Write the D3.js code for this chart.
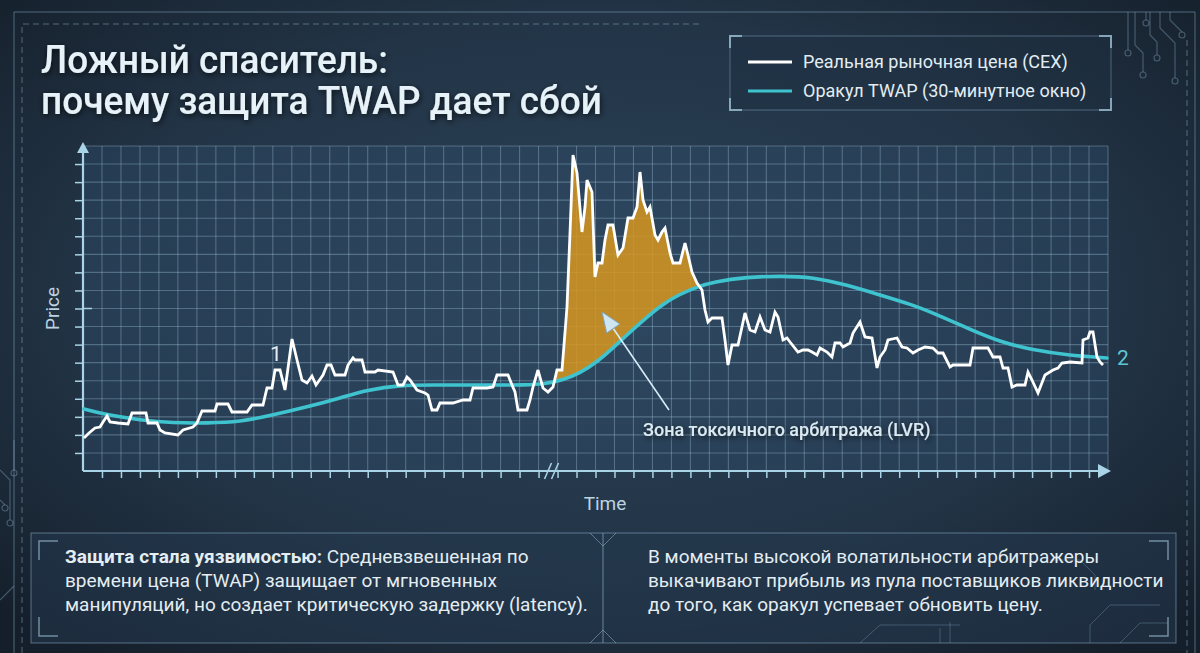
<!DOCTYPE html>
<html><head><meta charset="utf-8">
<script src="https://cdn.jsdelivr.net/npm/d3@7"></script>
<style>
html,body{margin:0;padding:0;background:#1a2634;}
svg{display:block;font-family:Roboto,"Noto Sans",sans-serif;}
</style></head><body>
<svg id="chart" width="1200" height="653"></svg>
<script>
// ---------- DATA (time & price in arbitrary units) ----------
const priceTime = [0.2,1.2,2.4,3.4,4.0,4.8,5.4,7.0,9.0,9.8,12.6,13.0,14.8,15.4,16.4,19.0,20.0,22.0,22.8,23.8,26.4,26.8,29.0,29.8,32.8,33.8,36.0,36.8,37.8,38.4,39.4,40.4,41.8,42.8,43.8,44.8,45.8,46.6,48.0,48.8,49.6,50.4,52.4,53.0,54.0,54.4,55.8,56.4,58.4,59.0,62.0,63.0,64.0,64.8,65.4,66.8,68.4,69.0,69.8,70.8,71.4,74.0,76.0,77.4,78.0,80.8,82.0,82.8,85.0,85.8,86.4,87.0,88.8,89.4,90.0,91.0,92.0,93.0,94.0,94.8,95.8,96.8,97.4,98.0,98.8,99.8,100.4,100.8,101.8,102.4,103.0,103.8,104.4,105.0,106.0,107.0,108.0,109.0,110.0,110.8,111.4,112.0,112.8,113.4,114.4,115.0,115.8,116.4,117.4,118.0,119.4,120.4,121.0,121.8,122.8,123.8,124.4,125.0,125.8,127.8,128.4,129.0,129.8,131.0,132.4,133.4,134.4,135.4,136.4,137.4,138.4,139.0,140.0,140.8,141.4,143.0,144.0,145.0,145.8,146.8,147.4,148.8,149.8,150.4,151.4,152.0,153.4,154.0,155.4,156.4,157.8,158.8,159.4,160.4,161.0,162.8,163.8,164.8,166.0,167.0,168.4,170.0,171.0,172.0,173.4,174.0,177.4,178.0,181.0,182.0,183.4,184.0,185.0,185.8,186.8,188.4,189.0,189.8,191.0,192.4,194.0,195.0,195.8,197.4,199.8,200.0,201.0,201.4,202.0,202.8,203.4,204.0];
const priceValue = [13.2,15.2,17.2,17.6,19.6,22.0,19.6,19.2,18.8,23.2,23.2,19.2,19.2,16.4,15.2,14.4,16.4,17.6,19.2,24.0,24.0,26.8,26.8,23.6,23.6,26.4,26.4,33.2,33.2,40.4,40.4,32.4,52.8,44.4,36.4,35.2,38.0,34.4,38.4,42.4,42.4,38.4,38.4,42.4,45.2,44.4,44.4,39.6,39.6,40.4,39.6,34.4,34.4,37.6,36.4,32.4,31.2,30.4,24.4,24.4,27.2,27.2,28.4,28.4,33.2,33.2,33.6,38.4,38.4,34.4,31.6,24.4,24.4,28.4,33.6,40.4,33.2,31.6,33.6,40.4,40.4,65.6,95.2,126.4,119.2,95.6,105.6,116.4,111.6,77.6,83.2,83.2,92.4,98.4,98.4,86.4,89.2,101.2,101.2,105.6,119.6,108.4,103.6,105.6,94.4,92.4,95.6,97.2,87.2,83.2,83.2,91.2,86.4,79.6,75.2,72.4,64.4,59.6,61.2,61.2,52.4,42.4,50.4,50.4,63.2,56.4,55.6,61.6,56.4,55.6,63.6,61.6,52.4,53.2,51.6,47.6,48.4,48.4,47.6,46.4,49.2,47.6,45.6,51.2,51.2,49.6,51.2,55.2,59.6,53.6,53.2,41.2,45.6,48.4,52.4,53.2,49.6,49.2,47.2,48.4,49.6,49.2,47.2,47.2,41.6,42.4,42.4,49.2,49.2,45.6,45.6,41.2,41.2,33.6,34.4,34.4,39.6,36.4,31.2,38.4,40.4,41.2,43.2,43.6,43.2,52.4,53.2,55.6,55.6,45.6,43.6,42.4];
const twapTime  = [0.2,4.8,11.4,18.0,24.8,31.4,38.0,44.8,51.4,56.8,63.4,70.0,76.8,83.4,88.0,92.4,96.0,99.4,102.8,106.0,109.4,112.8,116.0,119.4,122.8,126.0,132.8,139.4,146.0,152.8,159.4,166.0,170.0,176.8,183.4,190.0,196.8,204.8];
const twapValue = [24.8,22.4,20.4,19.2,19.2,19.6,22.4,25.6,29.2,32.4,34.4,34.4,34.4,34.4,34.4,34.8,36.4,39.2,43.6,49.2,55.6,61.6,66.8,70.8,73.6,75.6,77.6,78.0,77.6,74.4,70.4,66.4,63.2,57.2,51.6,48.4,46.4,45.2];
const lvrRange = [94.0, 124.6];          // time window of the toxic-arbitrage zone
const legendLabels = ["Реальная рыночная цена (CEX)", "Оракул TWAP (30-минутное окно)"];
const titleLines = ["Ложный спаситель:", "почему защита TWAP дает сбой"];
const axisLabels = {x: "Time", y: "Price"};
const zoneLabel = "Зона токсичного арбитража (LVR)";
const markerLabels = [{text: "1", t: 38.6, p: 47}, {text: "2", t: 208, p: 45.2}];
const arrowAnno = {tail: [117.2, 24.4], head: [103.8, 63.6]};
const gridCols = 54, gridRows = 18;
const xDomain = [0, 205], yDomain = [0, 130];

// ---------- LAYOUT ----------
const W = 1200, H = 653;
const plot = {left: 83, right: 1108, top: 146, bottom: 471};
const svg = d3.select("#chart");
const defs = svg.append("defs");

const x = d3.scaleLinear().domain(xDomain).range([plot.left, plot.right]);
const y = d3.scaleLinear().domain(yDomain).range([plot.bottom, plot.top]);

// background
const bg = defs.append("radialGradient").attr("id","bg").attr("cx","50%").attr("cy","45%").attr("r","70%");
bg.append("stop").attr("offset","0%").attr("stop-color","#2d4459");
bg.append("stop").attr("offset","60%").attr("stop-color","#223446");
bg.append("stop").attr("offset","100%").attr("stop-color","#151f2b");
svg.append("rect").attr("width",W).attr("height",H).attr("fill","url(#bg)");

const glow = defs.append("filter").attr("id","glow").attr("x","-20%").attr("y","-50%").attr("width","140%").attr("height","200%");
glow.append("feGaussianBlur").attr("in","SourceAlpha").attr("stdDeviation",3).attr("result","b");
glow.append("feOffset").attr("in","b").attr("dx",1).attr("dy",2).attr("result","o");
glow.append("feComponentTransfer").attr("in","o").attr("result","s").append("feFuncA").attr("type","linear").attr("slope",0.7);
const gm = glow.append("feMerge"); gm.append("feMergeNode").attr("in","s"); gm.append("feMergeNode").attr("in","SourceGraphic");

const deco = "rgba(150,190,215,0.45)";
// frame decorations
const fr = svg.append("g").attr("fill","none").attr("stroke",deco).attr("stroke-width",1);
fr.append("path").attr("d","M14,653 V12 H1195 V653");
fr.append("path").attr("d","M22,653 V24 H700").attr("stroke-dasharray","6,4");
fr.append("path").attr("d","M1187,40 V653").attr("stroke-dasharray","6,4");
// circuit traces top right
const circ = svg.append("g").attr("fill","none").attr("stroke","rgba(150,190,215,0.35)").attr("stroke-width",1.2);
[["M1135,12 V45 L1143,53 V72",1143,72],["M1146,12 V20",1146,20],["M1150,12 V35 L1157,42 V55",1157,55],["M1160,12 V28 L1175,43 V78",1175,78],["M1170,12 V20 L1182,32",1182,32],["M1128,12 V50",1128,50]].forEach(d=>{
  circ.append("path").attr("d",d[0]);
  circ.append("circle").attr("cx",d[1]).attr("cy",d[2]+3).attr("r",3);
});
// circuit traces bottom left
[["M0,470 L10,480 V520",10,523],["M0,500 L5,505",5,508],["M14,440 V470",14,473],["M0,600 L14,586",0,0]].forEach(d=>{
  circ.append("path").attr("d",d[0]);
  if(d[1]) circ.append("circle").attr("cx",d[1]).attr("cy",d[2]).attr("r",3);
});

// ---------- TITLE ----------
svg.append("g").attr("filter","url(#glow)").selectAll("text").data(titleLines).join("text")
  .attr("x",41).attr("y",(d,i)=>73+i*41)
  .attr("font-size",38).attr("font-weight",500).attr("fill","#e6f2f8")
  .attr("textLength",(d,i)=>i===0?347:561).attr("lengthAdjust","spacingAndGlyphs")
  .text(d=>d);

// ---------- LEGEND ----------
const lg = svg.append("g");
lg.append("rect").attr("x",730).attr("y",36).attr("width",381).attr("height",74).attr("fill","rgba(30,48,66,0.5)").attr("stroke","rgba(150,190,215,0.4)");
const br = "rgba(170,205,225,0.7)";
[["M730,48 V36 H742"],["M1099,36 H1111 V48"],["M730,98 V110 H742"],["M1099,110 H1111 V98"]].forEach(d=>lg.append("path").attr("d",d[0]).attr("fill","none").attr("stroke",br).attr("stroke-width",2));
const legendColors = ["#ffffff","#3ec3cf"];
legendLabels.forEach((lab,i)=>{
  const ly = 62 + i*29;
  lg.append("line").attr("x1",748).attr("x2",792).attr("y1",ly).attr("y2",ly).attr("stroke",legendColors[i]).attr("stroke-width",3);
  lg.append("text").attr("x",803).attr("y",ly+6).attr("font-size",18).attr("fill","#e2edf3").text(lab);
});

// ---------- PLOT ----------
svg.append("rect").attr("x",plot.left).attr("y",plot.top).attr("width",plot.right-plot.left).attr("height",plot.bottom-plot.top).attr("fill","rgba(48,80,112,0.35)");

const colVals = d3.range(gridCols+1).map(i=>xDomain[0]+i*(xDomain[1]-xDomain[0])/gridCols);
const rowVals = d3.range(gridRows+1).map(i=>yDomain[0]+i*(yDomain[1]-yDomain[0])/gridRows);
const grid = svg.append("g").attr("stroke","rgba(175,210,232,0.32)").attr("stroke-width",1.1);
grid.selectAll("line.v").data(colVals.slice(1)).join("line").attr("class","v")
  .attr("x1",d=>x(d)).attr("x2",d=>x(d)).attr("y1",plot.top).attr("y2",plot.bottom);
grid.selectAll("line.h").data(rowVals.slice(1)).join("line").attr("class","h")
  .attr("x1",plot.left).attr("x2",plot.right).attr("y1",d=>y(d)).attr("y2",d=>y(d));

const axisColor = "#a9d3e6";
// axes via d3
const xAxis = svg.append("g").attr("transform",`translate(0,${plot.bottom})`)
  .call(d3.axisBottom(x).tickValues(colVals.slice(1,-1)).tickSize(7).tickFormat(""));
const yAxis = svg.append("g").attr("transform",`translate(${plot.left},0)`)
  .call(d3.axisLeft(y).tickValues(rowVals.slice(1,-1)).tickSize(8).tickFormat(""));
[xAxis,yAxis].forEach(a=>{a.select(".domain").remove(); a.selectAll(".tick line").attr("stroke",axisColor).attr("stroke-width",1.5);});
// longer mid tick
svg.append("line").attr("x1",plot.left).attr("x2",plot.left+9).attr("y1",y(rowVals[9])).attr("y2",y(rowVals[9])).attr("stroke",axisColor).attr("stroke-width",1.5);
// axis lines with arrows
svg.append("line").attr("x1",plot.left).attr("x2",plot.right-4).attr("y1",plot.bottom).attr("y2",plot.bottom).attr("stroke",axisColor).attr("stroke-width",2.2);
svg.append("line").attr("x1",plot.left).attr("x2",plot.left).attr("y1",plot.bottom).attr("y2",plot.top+4).attr("stroke",axisColor).attr("stroke-width",2.2);
svg.append("path").attr("d",`M${plot.right+3},${plot.bottom} l-13,-7 v14 z`).attr("fill",axisColor);
svg.append("path").attr("d",`M${plot.left},${plot.top-4} l-6,11 h12 z`).attr("fill",axisColor);
// axis break
const bx = x(93.7);
[-4,3].forEach(o=>svg.append("line").attr("x1",bx+o-3).attr("x2",bx+o+4).attr("y1",plot.bottom+8).attr("y2",plot.bottom-8).attr("stroke",axisColor).attr("stroke-width",1.6));

// axis titles
svg.append("text").attr("x",605).attr("y",510).attr("text-anchor","middle").attr("font-size",19).attr("fill","#bcd3e0").text(axisLabels.x);
svg.append("text").attr("transform",`translate(59,${y(rowVals[9])}) rotate(-90)`).attr("text-anchor","middle").attr("font-size",19).attr("fill","#bcd3e0").text(axisLabels.y);

// ---------- SERIES ----------
const priceData = priceTime.map((t,i)=>({t, p: priceValue[i]}));
const twapData = twapTime.map((t,i)=>({t, p: twapValue[i]}));
const twapCurve = d3.curveBasis;

// clip: region above TWAP
defs.append("clipPath").attr("id","aboveTwap").append("path")
  .attr("d", d3.area().x(d=>x(d.t)).y0(0).y1(d=>y(d.p)).curve(twapCurve)(twapData));
const zoneData = priceData.filter(d=>d.t>=lvrRange[0] && d.t<=lvrRange[1]);
svg.append("path").attr("clip-path","url(#aboveTwap)")
  .attr("d", d3.area().x(d=>x(d.t)).y0(y(0)).y1(d=>y(d.p))(zoneData))
  .attr("fill","rgba(214,150,32,0.86)");

svg.append("path").datum(twapData)
  .attr("d", d3.line().x(d=>x(d.t)).y(d=>y(d.p)).curve(twapCurve))
  .attr("fill","none").attr("stroke","#3ec3cf").attr("stroke-width",3.6).attr("stroke-linecap","round");
svg.append("path").datum(priceData)
  .attr("d", d3.line().x(d=>x(d.t)).y(d=>y(d.p)))
  .attr("fill","none").attr("stroke","#ffffff").attr("stroke-width",2.8).attr("stroke-linejoin","miter").attr("stroke-miterlimit",3);

// markers 1 / 2
svg.selectAll("text.mk").data(markerLabels).join("text").attr("class","mk")
  .attr("x",d=>x(d.t)).attr("y",d=>y(d.p)+7).attr("text-anchor","middle").attr("font-size",21)
  .attr("fill",(d,i)=>i===0?"#e4edf2":"#5cc6d1").text(d=>d.text);

// ---------- ANNOTATION ----------
const [tx,ty] = [x(arrowAnno.tail[0]), y(arrowAnno.tail[1])];
const [hx,hy] = [x(arrowAnno.head[0]), y(arrowAnno.head[1])];
const ang = Math.atan2(hy-ty, hx-tx);
const L = 20, Wd = 8;
const bxp = hx - L*Math.cos(ang), byp = hy - L*Math.sin(ang);
svg.append("line").attr("x1",tx).attr("y1",ty).attr("x2",bxp).attr("y2",byp).attr("stroke","#d7ecf6").attr("stroke-width",1.6);
svg.append("path").attr("d",`M${hx},${hy} L${bxp+Wd*Math.sin(ang)},${byp-Wd*Math.cos(ang)} L${bxp-Wd*Math.sin(ang)},${byp+Wd*Math.cos(ang)} Z`)
  .attr("fill","#cfe6f2").attr("stroke","#7fa6bb").attr("stroke-width",1);
svg.append("text").attr("filter","url(#glow)").attr("x",643).attr("y",436).attr("font-size",18).attr("font-weight",500).attr("fill","#dbe9f1").text(zoneLabel);

// ---------- BOTTOM PANELS ----------
const bp = svg.append("g");
bp.append("rect").attr("x",31).attr("y",533).attr("width",1145).attr("height",110).attr("fill","rgba(36,56,78,0.55)").attr("stroke","rgba(150,190,215,0.5)");
bp.append("line").attr("x1",603).attr("x2",603).attr("y1",533).attr("y2",643).attr("stroke","rgba(150,190,215,0.6)");
bp.append("path").attr("d","M590,533 L603,546 L616,533 M590,643 L603,630 L616,643").attr("fill","none").attr("stroke","rgba(150,190,215,0.5)");
[["M39,560 V541 H58"],["M39,617 V636 H58"],["M1168,560 V541 H1149"],["M1168,617 V636 H1149"]].forEach(d=>bp.append("path").attr("d",d[0]).attr("fill","none").attr("stroke","rgba(170,205,225,0.6)").attr("stroke-width",1.5));
// traces in right panel
[["M1050,560 L1080,560 L1095,575 V590"],["M1090,643 V625 L1110,605 H1160"],["M1120,643 L1140,623 H1168"],["M940,643 V628"],["M950,643 V622"],["M860,643 L880,625 H960"]].forEach(d=>bp.append("path").attr("d",d[0]).attr("fill","none").attr("stroke","rgba(150,190,215,0.3)"));

const leftLines = [
  [{b:true,t:"Защита стала уязвимостью: "},{b:false,t:"Средневзвешенная по"}],
  [{b:false,t:"времени цена (TWAP) защищает от мгновенных"}],
  [{b:false,t:"манипуляций, но создает критическую задержку (latency)."}]
];
const rightLines = [
  "В моменты высокой волатильности арбитражеры",
  "выкачивают прибыль из пула поставщиков ликвидности",
  "до того, как оракул успевает обновить цену."
];
leftLines.forEach((parts,i)=>{
  const t = bp.append("text").attr("x",65).attr("y",563+i*24).attr("font-size",19).attr("fill","#e4edf2");
  parts.forEach(p=>t.append("tspan").attr("font-weight",p.b?700:400).text(p.t));
});
rightLines.forEach((s,i)=>{
  bp.append("text").attr("x",648).attr("y",563+i*24).attr("font-size",19).attr("fill","#e4edf2").text(s);
});
</script>
</body></html>
